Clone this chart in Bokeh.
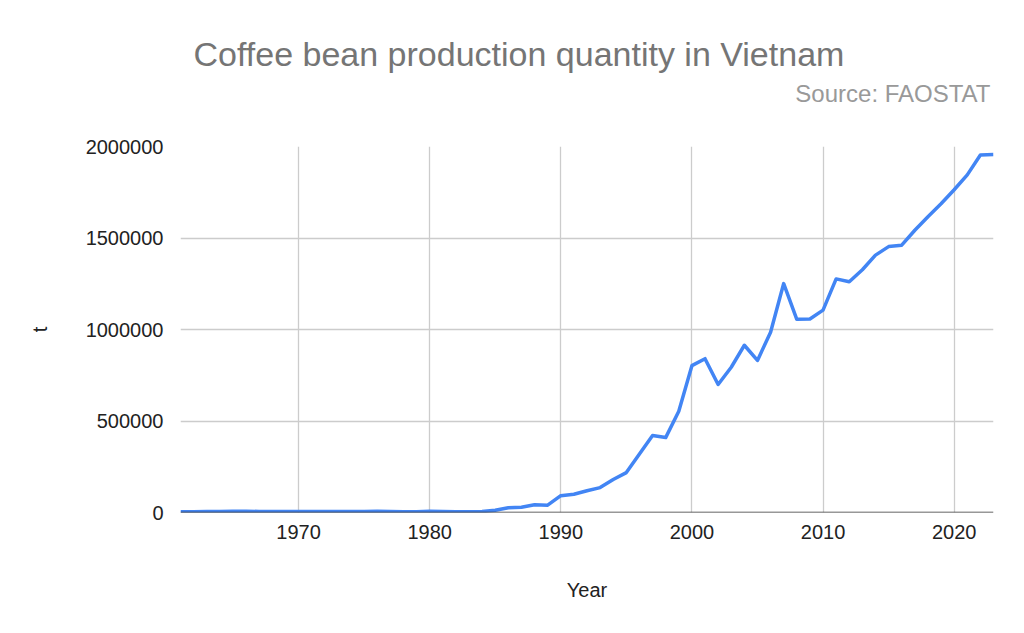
from bokeh.plotting import figure
from bokeh.models import Range1d, FixedTicker, NumeralTickFormatter, Title, Span
from bokeh.embed import file_html
from bokeh.resources import INLINE

years = list(range(1961, 2024))
production = [
    4000, 4500, 5000, 6000, 7000, 6500, 6000, 5500, 5000, 5000,
    5500, 5500, 5500, 5000, 5500, 7500, 5500, 4500, 4500, 7000,
    5000, 4500, 4500, 5000, 12000, 26000, 29000, 42000, 40000, 92000,
    100000, 119000, 136000, 180000, 218000, 320000, 420500, 409300, 553200, 802500,
    840600, 699500, 793700, 914000, 831000, 985300, 1251000, 1055800, 1057500, 1105700,
    1276500, 1260500, 1326700, 1406500, 1453000, 1460800, 1542400, 1616300, 1686800, 1763500,
    1845000, 1954000, 1956800,
]
x_ticks = [1970, 1980, 1990, 2000, 2010, 2020]
y_ticks = [0, 500000, 1000000, 1500000, 2000000]

title_text = "Coffee bean production quantity in Vietnam"
source_text = "Source: FAOSTAT"
FONT = "Liberation Sans"

p = figure(width=1024, height=633, output_backend="svg", toolbar_location=None, title=None,
           x_range=Range1d(1961, 2023), y_range=Range1d(0, 2000000),
           min_border_left=180, min_border_right=31, min_border_top=146, min_border_bottom=121)
p.outline_line_color = None
p.background_fill_color = "white"
p.border_fill_color = "white"

p.xaxis.ticker = FixedTicker(ticks=x_ticks)
p.yaxis.ticker = FixedTicker(ticks=y_ticks)
p.yaxis.formatter = NumeralTickFormatter(format="0")
for ax in (p.xaxis, p.yaxis):
    ax.axis_line_color = None
    ax.major_tick_line_color = None
    ax.minor_tick_line_color = None
    ax.major_tick_out = 0
    ax.major_tick_in = 0
    ax.minor_tick_out = 0
    ax.minor_tick_in = 0
    ax.major_label_text_font = FONT
    ax.major_label_text_font_size = "20px"
    ax.major_label_text_color = "#222222"
    ax.axis_label_text_font = FONT
    ax.axis_label_text_font_size = "20px"
    ax.axis_label_text_font_style = "normal"
    ax.axis_label_text_color = "#222222"
p.xaxis.axis_label = "Year"
p.yaxis.axis_label = "t"
p.xaxis.major_label_standoff = 12
p.yaxis.major_label_standoff = 17
p.xaxis.axis_label_standoff = 37
p.yaxis.axis_label_standoff = 32

p.xgrid.grid_line_color = "#cccccc"
p.ygrid.grid_line_color = "#cccccc"
p.xgrid.grid_line_width = 1.3
p.ygrid.grid_line_width = 1.3

p.add_layout(Span(location=0, dimension="width", line_color="#333333", line_width=1.3))

p.line(years, production, line_color="#4285F4", line_width=3.5, line_join="round")

p.add_layout(Title(text=source_text, text_font=FONT, text_font_size="24px",
                   text_font_style="normal", text_color="#999999",
                   align="right", standoff=80, offset=3), "above")
p.add_layout(Title(text=title_text, text_font=FONT, text_font_size="34px",
                   text_font_style="normal", text_color="#757575",
                   align="left", standoff=-70, offset=13), "above")

open("out.html", "w").write(file_html(p, INLINE))
